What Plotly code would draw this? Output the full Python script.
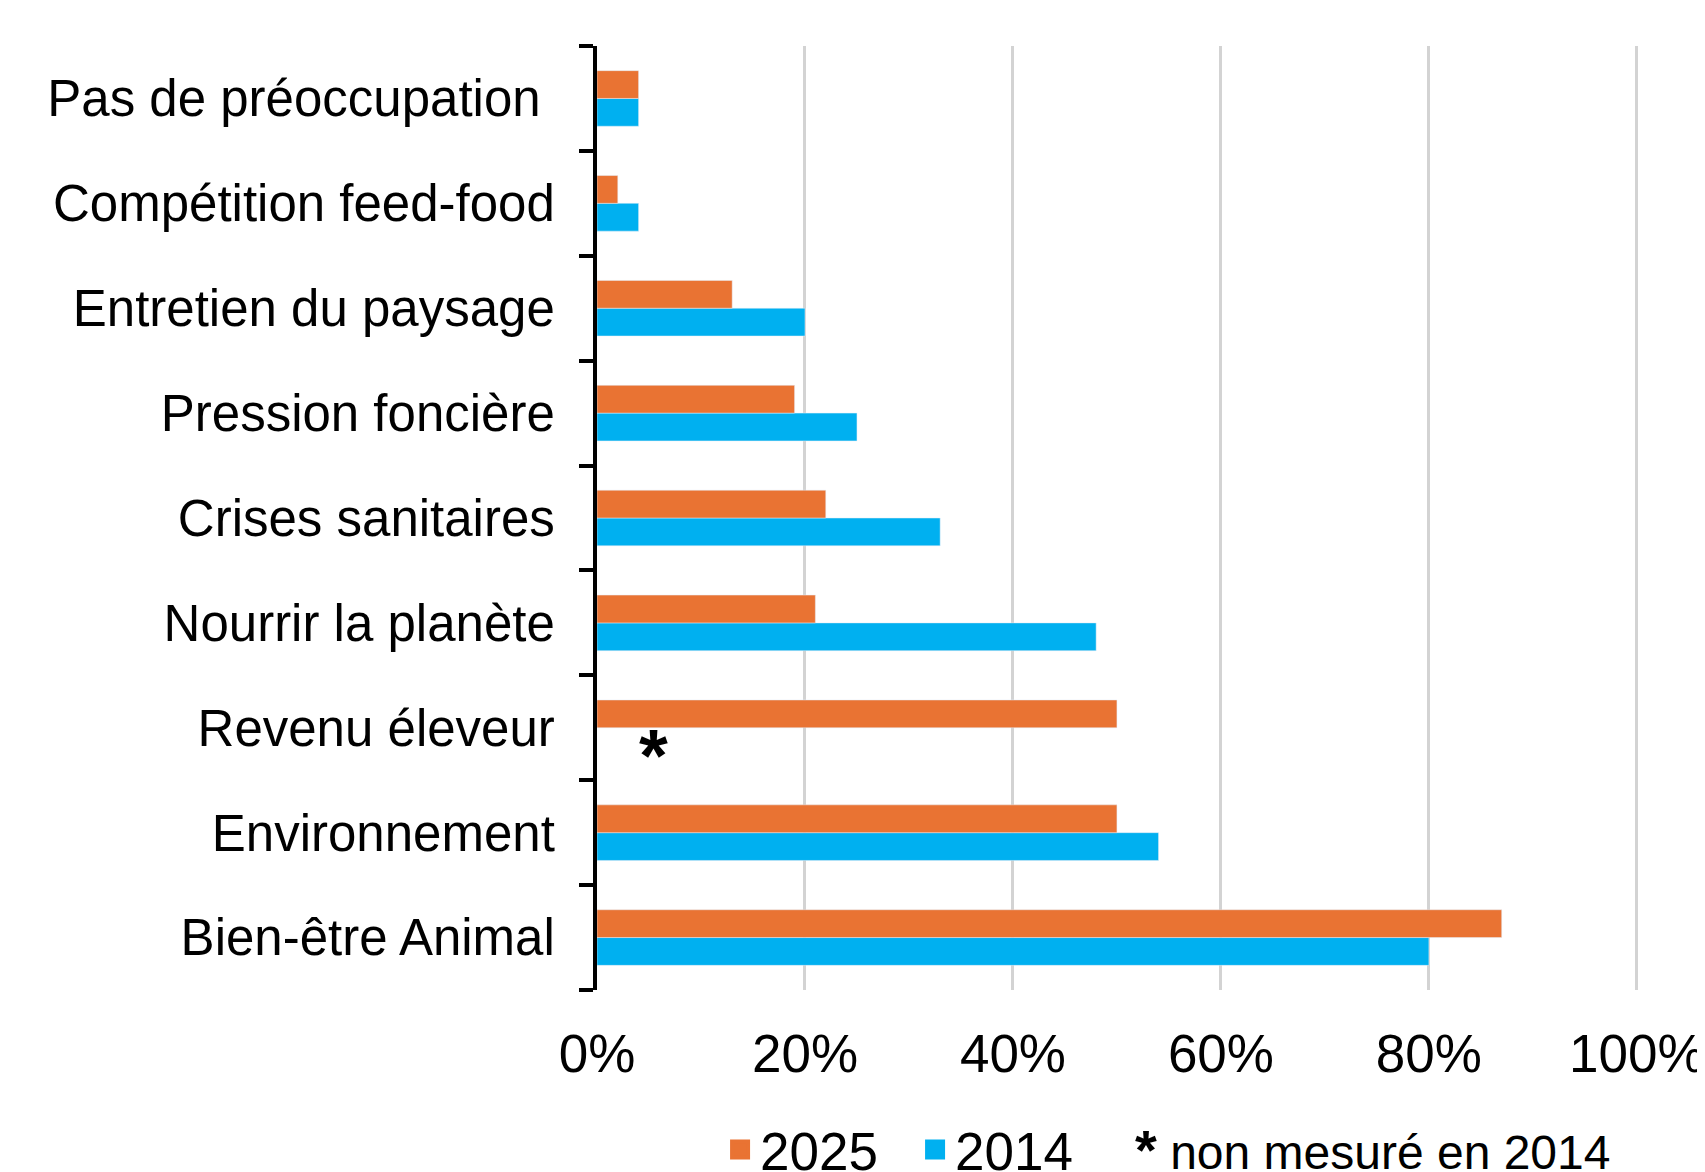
import plotly.graph_objects as go

# ── Data ───────────────────────────────────────────────────────────────────
# bottom → top, so the first category sits at the bottom of the chart
CATEGORIES = [
    "Bien-être Animal",
    "Environnement",
    "Revenu éleveur",
    "Nourrir la planète",
    "Crises sanitaires",
    "Pression foncière",
    "Entretien du paysage",
    "Compétition feed-food",
    "Pas de préoccupation\u00a0",
]
VALUES_2025 = [0.87, 0.50, 0.50, 0.21, 0.22, 0.19, 0.13, 0.02, 0.04]
VALUES_2014 = [0.80, 0.54, None, 0.48, 0.33, 0.25, 0.20, 0.04, 0.04]
X_TICKS = [0, 0.2, 0.4, 0.6, 0.8, 1.0]

ORANGE = "#E97333"
BLUE = "#00B0F0"
FONT = "Arial, Liberation Sans, sans-serif"

fig = go.Figure()
fig.add_trace(go.Bar(
    y=CATEGORIES, x=VALUES_2014, orientation="h",
    name="2014", marker_color=BLUE, showlegend=False,
))
fig.add_trace(go.Bar(
    y=CATEGORIES, x=VALUES_2025, orientation="h",
    name="2025", marker_color=ORANGE, showlegend=False,
))

# legend-only entries (bigger square swatches than the bar legend gives)
for name, color in [("2025", ORANGE), ("2014", BLUE)]:
    fig.add_trace(go.Scatter(
        x=[None], y=[None], mode="markers", name=name,
        marker=dict(symbol="square", size=16, color=color,
                    line=dict(color=color, width=4)),
    ))

# asterisk marking the missing 2014 value
fig.add_annotation(
    x=0.054, y="Revenu éleveur", xref="x", yref="y",
    text="<b>*</b>", showarrow=False, yshift=-28,
    font=dict(size=74, color="black", family=FONT),
)
fig.add_annotation(
    x=0.514, y=-0.169, xref="paper", yref="paper",
    xanchor="left", yanchor="middle",
    text="<b><span style='font-size:56px'>*</span></b> non mesuré en 2014",
    showarrow=False,
    font=dict(size=48, color="black", family=FONT),
)

fig.update_layout(
    width=1705, height=1172,
    paper_bgcolor="white", plot_bgcolor="white",
    font=dict(family=FONT, size=51, color="black"),
    margin=dict(l=589, r=73, t=38, b=190, autoexpand=False),
    barmode="group", bargap=0.47, bargroupgap=0,
    legend=dict(
        orientation="h", x=0.118, y=-0.169,
        xanchor="left", yanchor="middle",
        font=dict(size=53), entrywidth=150, entrywidthmode="pixels",
        itemsizing="trace",
    ),
    xaxis=dict(
        range=[0, 1.003], tickvals=X_TICKS, tickformat=".0%",
        showgrid=True, gridcolor="#D3D3D3", gridwidth=3,
        showline=False, zeroline=False, ticks="",
        ticklabelstandoff=28, automargin=False,
        tickfont=dict(size=53),
    ),
    yaxis=dict(
        showline=True, linecolor="black", linewidth=4,
        ticks="outside", tickson="boundaries", ticklen=14,
        tickwidth=4, tickcolor="black",
        ticklabelstandoff=28, showgrid=False, automargin=False,
    ),
)

fig.write_html("out.html")
